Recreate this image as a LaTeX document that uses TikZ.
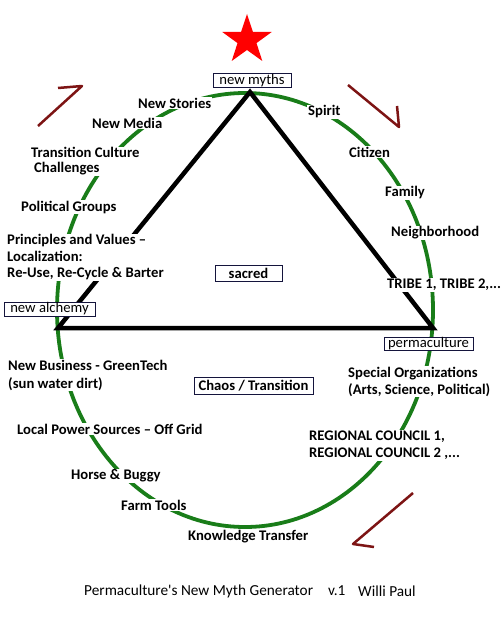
\documentclass[tikz,border=0pt]{standalone}
\usepackage{fontspec}
\setmainfont{Carlito}
\definecolor{arcgreen}{RGB}{25,125,25}
\definecolor{arrowred}{RGB}{125,20,20}
\definecolor{boxnavy}{RGB}{20,20,60}
\newcommand{\lblfont}{\fontsize{14.67bp}{17bp}\selectfont\bfseries}
\newcommand{\regfont}{\fontsize{14.67bp}{17bp}\selectfont}
\newcommand{\titfont}{\fontsize{15.3bp}{17bp}\selectfont}
\begin{document}
\begin{tikzpicture}[x=1bp,y=-1bp,
  lbl/.style={anchor=west, fill=white, inner sep=1bp, align=left, font=\lblfont},
  plainlbl/.style={anchor=west, inner sep=1bp, align=left, font=\lblfont},
  tag/.style={draw=boxnavy, line width=0.8bp, fill=white, inner sep=0pt, font=\regfont},
  boldtag/.style={tag, font=\lblfont},
  titletext/.style={anchor=west, inner sep=0pt, font=\titfont},
  ring/.style={draw=arcgreen, line width=3.8bp},
  tri/.style={draw=black, line width=4.5bp},
  turn/.style={draw=arrowred, line width=2.5bp, line join=round}]
\useasboundingbox (0,0) rectangle (501,617);
% star
\fill[red] (247,14) -- (252.9,31.9) -- (271.7,32) -- (256.5,43.1) -- (262.3,61)
  -- (247,50) -- (231.7,61) -- (237.5,43.1) -- (222.3,32) -- (241.1,31.9) -- cycle;
% green cycle
\draw[ring] (245,310) ellipse [x radius=188bp, y radius=217bp];
% triangle
\coordinate (apex) at (250,92);
\coordinate (lv) at (58,328);
\coordinate (rv) at (433,328);
\draw[tri] (apex) -- (lv) -- (rv) -- cycle;
% red turn arrows
\coordinate (a1s) at (38,126); \coordinate (a1t) at (82,86); \coordinate (a1b) at (58,88);
\draw[turn] (a1s) -- (a1t) -- (a1b);
\coordinate (a2s) at (348,85); \coordinate (a2t) at (399,127); \coordinate (a2b) at (397,106);
\draw[turn] (a2s) -- (a2t) -- (a2b);
\coordinate (a3s) at (413,493); \coordinate (a3t) at (353,544); \coordinate (a3b) at (374,547);
\draw[turn] (a3s) -- (a3t) -- (a3b);
% boxes
\node[tag, minimum width=78bp, minimum height=14bp] (newmyths) at (252,80.5) {new myths};
\node[boldtag, minimum width=67bp, minimum height=16bp] (sacred) at (248.5,273) {sacred};
\node[tag, minimum width=91bp, minimum height=14bp] (newalchemy) at (49.5,309) {new alchemy};
\node[tag, minimum width=89bp, minimum height=13bp] (permaculture) at (428.5,343.5) {permaculture};
\node[boldtag, minimum width=119bp, minimum height=17bp] (chaos) at (253.5,385.5) {Chaos / Transition};
% left labels
\node[lbl] (newstories) at (137,103) {New Stories};
\node[lbl] (newmedia) at (91,123) {New Media};
\node[lbl, font=\fontsize{14.67bp}{15bp}\selectfont\bfseries] (transition) at (30,161.5) {Transition Culture\\\hspace{3bp}Challenges};
\node[lbl] (political) at (20,207) {Political Groups};
\node[lbl, font=\fontsize{14.67bp}{16.5bp}\selectfont\bfseries] (principles) at (6,257.5) {Principles and Values --\\Localization:\\Re-Use, Re-Cycle \& Barter};
\node[lbl, font=\fontsize{14.67bp}{18bp}\selectfont\bfseries] (newbusiness) at (7,375) {New Business - GreenTech\\(sun water dirt)};
\node[lbl] (localpower) at (16,429) {Local Power Sources -- Off Grid};
\node[lbl] (horse) at (70,476) {Horse \& Buggy};
\node[lbl] (farm) at (120,505) {Farm Tools};
\node[plainlbl] (knowledge) at (187,537) {Knowledge Transfer};
% right labels
\node[lbl] (spirit) at (307,112) {Spirit};
\node[lbl] (citizen) at (348,152) {Citizen};
\node[lbl] (family) at (384,193) {Family};
\node[lbl] (neighborhood) at (390,233) {Neighborhood};
\node[lbl] (tribe) at (386,285) {TRIBE 1, TRIBE 2,...};
\node[lbl] (special) at (347,381.5) {Special Organizations\\(Arts, Science, Political)};
\node[lbl] (regional) at (308,445.5) {REGIONAL COUNCIL 1,\\REGIONAL COUNCIL 2 ,...};
% title
\node[titletext] (title) at (84,591) {Permaculture\textquotesingle s New Myth Generator};
\node[titletext] (version) at (328,591) {v.1};
\node[titletext] (author) at (358,591) {Willi Paul};
\end{tikzpicture}
\end{document}
